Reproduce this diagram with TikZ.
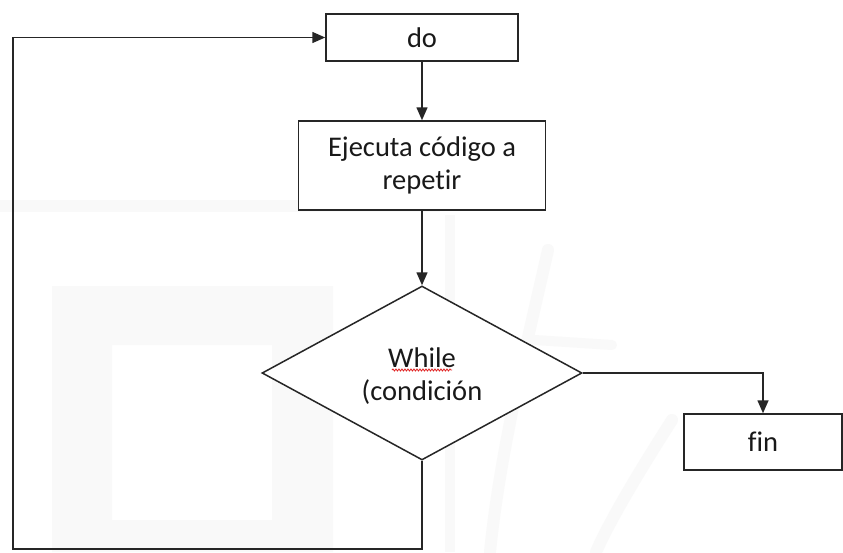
\documentclass[tikz,border=0pt]{standalone}
\usepackage{fontspec}
\setmainfont{Carlito}[Ligatures={NoCommon}]
\usetikzlibrary{shapes.geometric,arrows.meta,decorations.pathmorphing}
\definecolor{logoshade}{HTML}{F9F9F9}
\definecolor{squiggle}{HTML}{E02020}
\tikzset{
  label text/.style={font=\fontsize{28.5}{33.5}\selectfont, text=black!90},
  box/.style={draw=black!85, line width=1.5pt, fill=white, inner sep=0pt, align=center, label text},
  decision/.style={box, diamond, aspect=1.84},
  flow/.style={draw=black!85, line width=1.5pt, -{Triangle[width=11pt,length=13pt]}}
}
\begin{document}
\begin{tikzpicture}[x=1pt,y=-1pt]
  \useasboundingbox (0,0) rectangle (843,552);
  \fill[white] (0,0) rectangle (843,552);

  % faint logo in the background
  \fill[logoshade] (0,200) rectangle (440,212);
  \fill[logoshade, even odd rule] (52,286) rectangle (333,552) (112,345) rectangle (272,520);
  \fill[logoshade] (445,215) rectangle (455,552);
  \draw[logoshade, line width=12pt, line cap=round] (548,250) .. controls (530,330) and (500,450) .. (490,552);
  \draw[logoshade, line width=10pt, line cap=round] (535,340) -- (612,345);
  \draw[logoshade, line width=12pt, line cap=round] (672,420) .. controls (640,470) and (610,520) .. (596,552);

  % blocks
  \node[box, minimum width=192pt, minimum height=47pt] (do) at (422,37.5) {do};
  \node[box, minimum width=247pt, minimum height=89pt] (exec) at (422,165.5) {Ejecuta código a\\repetir};
  \node[decision, minimum width=320pt, minimum height=174pt] (cond) at (422,373) {};
  \node[label text, align=center] (condtxt) at (422,376) {While\\(condición};
  \node[box, minimum width=158pt, minimum height=56pt] (fin) at (763,442) {fin};

  % spell-check underline below "While"
  \coordinate (sqa) at (392,370);
  \coordinate (sqb) at (452,370);
  \draw[squiggle, line width=0.8pt, decorate,
        decoration={snake, amplitude=1pt, segment length=3pt}] (sqa) -- (sqb);

  % connectors
  \draw[flow] (do.south) -- (exec.north);
  \draw[flow] (exec.south) -- (cond.north);
  \draw[flow] (cond.east) -| (fin.north);
  \coordinate (loopbl) at (13,549);
  \draw[flow] (cond.south) |- (loopbl) |- (do.west);
\end{tikzpicture}
\end{document}
